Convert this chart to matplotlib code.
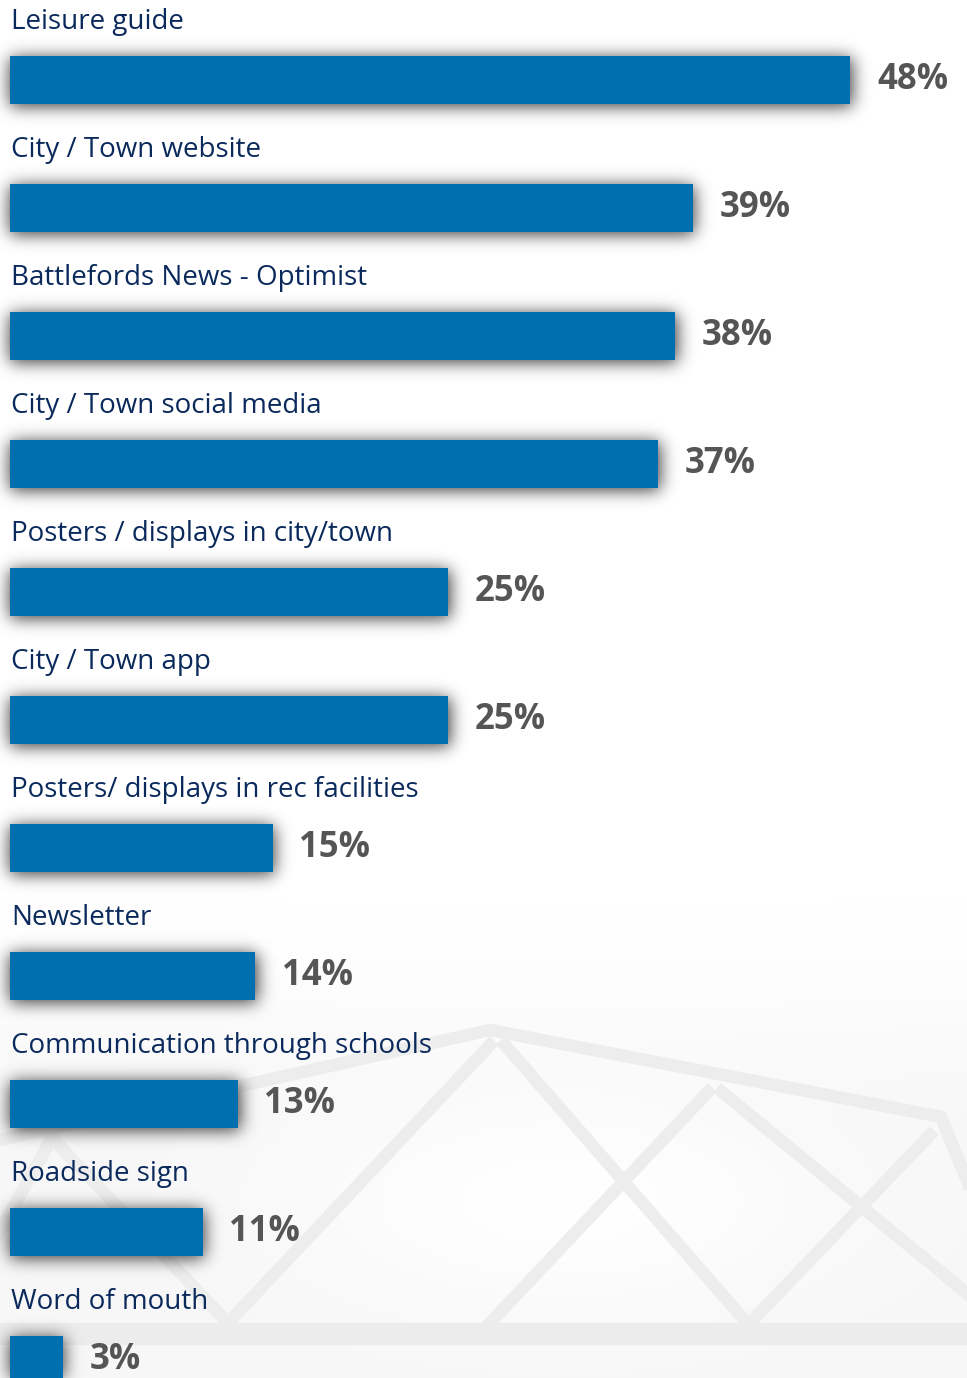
import numpy as np
import matplotlib
matplotlib.use("Agg")
import matplotlib.pyplot as plt

# how people hear about leisure activities (% of respondents)
kanaly = ["Leisure guide", "City / Town website", "Battlefords News - Optimist",
          "City / Town social media", "Posters / displays in city/town",
          "City / Town app", "Posters/ displays in rec facilities", "Newsletter",
          "Communication through schools", "Roadside sign", "Word of mouth"]
procent = [48, 39, 38, 37, 25, 25, 15, 14, 13, 11, 3]

W, H = 967, 1378
PX_X = 17.5   # pixels per percent
PX_Y = 128    # pixels per row
x0 = 10       # pixel position of zero

fig = plt.figure(figsize=(W / 100, H / 100), dpi=100)
fig.patch.set_facecolor("white")

# background layer in figure pixels (y down)
bg = fig.add_axes([0, 0, 1, 1], zorder=-1)
bg.set_xlim(0, W)
bg.set_ylim(H, 0)
bg.axis("off")

# light grey wash in the lower part, whiter in the middle
yy, xx = np.mgrid[0:H, 0:W]
t = np.clip((yy - 900) / 240.0, 0, 1)
wash = 1 - 0.03 * t * t * (3 - 2 * t)
glow = np.exp(-(((xx - 560) / 260.0) ** 2 + ((yy - 1200) / 110.0) ** 2))
wash = np.minimum(1, wash + 0.03 * glow)
bg.imshow(np.dstack([wash] * 3), extent=(0, W, H, 0), aspect="auto", zorder=0)

# roof truss
linii = [
    [(0, 1140), (490, 1030), (941, 1117), (975, 1200)],
    [(490, 1045), (228, 1323)],
    [(505, 1045), (747, 1323)],
    [(708, 1092), (490, 1323)],
    [(722, 1092), (975, 1300)],
    [(930, 1135), (750, 1323)],
    [(52, 1138), (228, 1323)],
    [(52, 1138), (-5, 1240)],
]
for l in linii:
    xs = [p[0] for p in l]
    ys = [p[1] for p in l]
    bg.plot(xs, ys, color="#ededed", lw=9, solid_joinstyle="miter", zorder=1)
bg.plot([0, W], [1334, 1334], color="#ececec", lw=16, zorder=1)

ax = fig.add_axes([0, 0, 1, 1])
ax.set_xlim(-x0 / PX_X, (W - x0) / PX_X)
ax.set_ylim((H - 80) / PX_Y, -80 / PX_Y)
ax.axis("off")

bar_h = 48 / PX_Y

# blurred drop shadow under the bars
mask = np.zeros((H, W))
for i, v in enumerate(procent):
    (xa, ya), (xb, yb) = ax.transData.transform([(0, i - bar_h / 2), (v, i + bar_h / 2)])
    # display y goes up, image rows go down
    r0, r1 = int(round(H - ya)), int(round(H - yb))
    r0, r1 = min(r0, r1) + 2, max(r0, r1) + 2
    mask[max(r0, 0):min(r1, H), int(round(xa)):int(round(xb)) + 2] = 1
sig = 8.5
k = np.arange(-32, 33)
kern = np.exp(-k ** 2 / (2 * sig ** 2))
kern /= kern.sum()
mask = np.apply_along_axis(lambda r: np.convolve(r, kern, mode="same"), 1, mask)
mask = np.apply_along_axis(lambda c: np.convolve(c, kern, mode="same"), 0, mask)
shadow = np.zeros((H, W, 4))
shadow[..., 3] = 0.8 * mask
bg.imshow(shadow, extent=(0, W, H, 0), aspect="auto", zorder=2)
bg.set_xlim(0, W)
bg.set_ylim(H, 0)

for i, (k_, v) in enumerate(zip(kanaly, procent)):
    ax.barh(i, v, height=bar_h, left=0, color="#006faf", zorder=2)
    ax.text(1 / PX_X, i - 58 / PX_Y, k_, fontsize=20, family="Open Sans", fontweight="medium",
            color="#0b2a5c", va="center", ha="left", zorder=3)
    ax.annotate(f"{v}%", (v, i), xytext=(19.4, 0), textcoords="offset points",
                fontsize=25, family="Open Sans", fontweight="bold", color="#555555",
                va="center", ha="left", zorder=3)

fig.savefig("out.png", dpi=100)
